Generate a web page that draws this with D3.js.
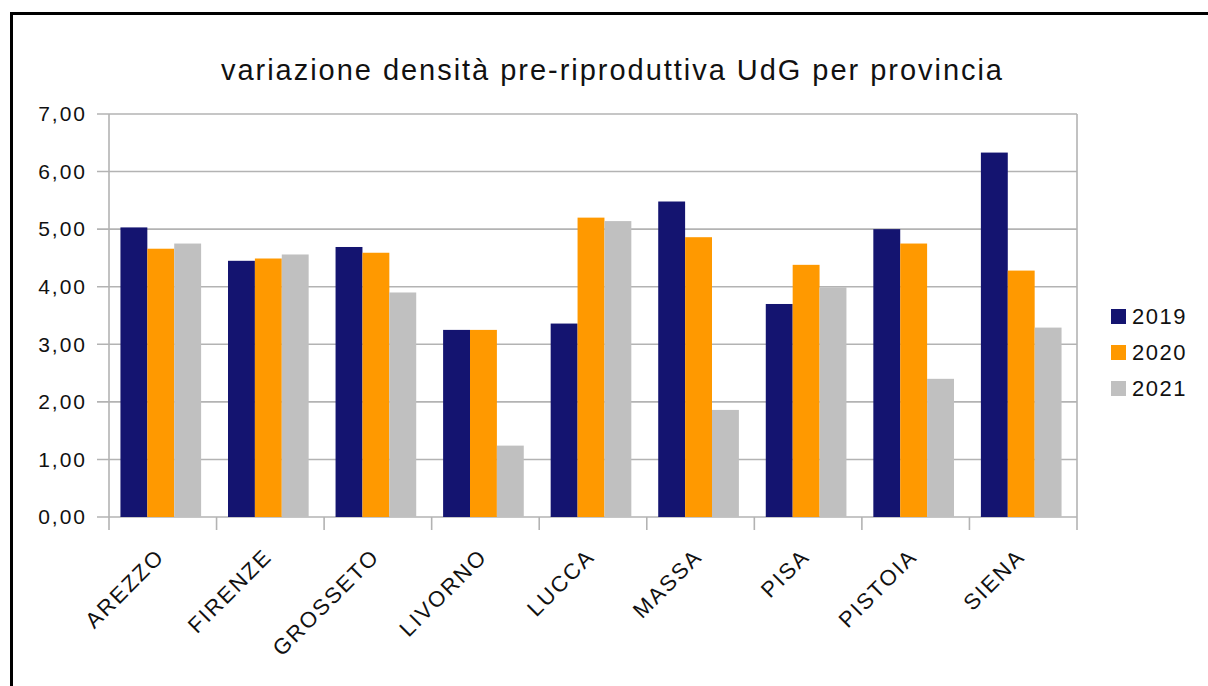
<!DOCTYPE html>
<html>
<head>
<meta charset="utf-8">
<script src="https://cdn.jsdelivr.net/npm/d3@7"></script>
<style>
  body { margin: 0; background: #fff; }
  svg { display: block; font-family: "Liberation Sans", Arial, sans-serif; }
</style>
</head>
<body>
<div class="visualisation"></div>
<script>
// DATA
var categories = ["AREZZO", "FIRENZE", "GROSSETO", "LIVORNO", "LUCCA", "MASSA", "PISA", "PISTOIA", "SIENA"];
var years = ["2019", "2020", "2021"];
var values2019 = [5.03, 4.45, 4.69, 3.25, 3.36, 5.48, 3.70, 5.00, 6.33];
var values2020 = [4.66, 4.49, 4.59, 3.25, 5.20, 4.86, 4.38, 4.75, 4.28];
var values2021 = [4.75, 4.56, 3.90, 1.24, 5.14, 1.86, 3.99, 2.40, 3.29];
var yTicks = [0, 1, 2, 3, 4, 5, 6, 7];
var colours = ["#141470", "#ff9900", "#c0c0c0"];
var title = "variazione densità pre-riproduttiva UdG per provincia";

var series = [values2019, values2020, values2021];

// CANVAS
var W = 1208, H = 686;
var plot = {left: 109, right: 1077, top: 114, bottom: 517};

var svg = d3.select(".visualisation").append("svg")
    .attr("width", W)
    .attr("height", H);

svg.append("rect").attr("width", W).attr("height", H).attr("fill", "#fff");

// outer frame (runs off the right and bottom edges)
svg.append("rect")
    .attr("x", 11.5).attr("y", 13.5)
    .attr("width", W + 20).attr("height", H + 20)
    .attr("fill", "none")
    .attr("stroke", "#000")
    .attr("stroke-width", 3);

// SCALES
var x = d3.scaleBand().domain(categories).range([plot.left, plot.right]);
var xInner = d3.scaleBand().domain(years)
    .range([x.bandwidth() / 8 - 2, x.bandwidth() * 7 / 8 - 2]);
var y = d3.scaleLinear().domain([0, 7]).range([plot.bottom, plot.top]);

var fmt = d3.formatLocale({decimal: ",", thousands: ".", grouping: [3], currency: ["", "€"]}).format(".2f");

// GRID
svg.append("g").attr("class", "grid")
  .selectAll("line").data(yTicks).join("line")
    .attr("x1", plot.left - 12).attr("x2", plot.right)
    .attr("y1", d => y(d)).attr("y2", d => y(d))
    .attr("stroke", "#b3b3b3").attr("stroke-width", 1.6);

// BARS
var groups = svg.append("g").attr("class", "bars")
  .selectAll("g").data(categories).join("g")
    .attr("transform", d => "translate(" + x(d) + ",0)");

groups.selectAll("rect")
  .data((d, i) => years.map((yr, j) => ({year: yr, value: series[j][i], k: j})))
  .join("rect")
    .attr("x", d => xInner(d.year))
    .attr("width", xInner.bandwidth())
    .attr("y", d => y(d.value))
    .attr("height", d => y(0) - y(d.value))
    .attr("fill", d => colours[d.k]);

// AXES LINES
var frame = svg.append("g").attr("stroke", "#b3b3b3").attr("stroke-width", 1.6);
frame.append("line").attr("x1", plot.left).attr("x2", plot.left)
    .attr("y1", plot.top).attr("y2", plot.bottom + 13);
frame.append("line").attr("x1", plot.right).attr("x2", plot.right)
    .attr("y1", plot.top).attr("y2", plot.bottom + 13);
frame.selectAll(".xt").data(categories.slice(1)).join("line")
    .attr("class", "xt")
    .attr("x1", d => x(d)).attr("x2", d => x(d))
    .attr("y1", plot.bottom).attr("y2", plot.bottom + 13);

// Y LABELS
svg.append("g").attr("class", "y-axis")
  .selectAll("text").data(yTicks).join("text")
    .attr("x", 87)
    .attr("y", d => y(d))
    .attr("dy", "0.35em")
    .attr("text-anchor", "end")
    .attr("font-size", 21)
    .attr("letter-spacing", 2)
    .attr("fill", "#111")
    .text(d => fmt(d));

// X LABELS
svg.append("g").attr("class", "x-axis")
  .selectAll("text").data(categories).join("text")
    .attr("transform", d => "translate(" + (x(d) + x.bandwidth() / 2 + 3) + "," + 558 + ") rotate(-45)")
    .attr("text-anchor", "end")
    .attr("font-size", 22)
    .attr("letter-spacing", 2)
    .attr("fill", "#111")
    .text(d => d);

// TITLE
svg.append("text")
    .attr("x", 221).attr("y", 80)
    .attr("font-size", 29)
    .attr("textLength", 781)
    .attr("lengthAdjust", "spacing")
    .attr("fill", "#111")
    .text(title);

// LEGEND
var legend = svg.append("g").attr("class", "legend")
  .selectAll("g").data(years).join("g")
    .attr("transform", (d, i) => "translate(1111," + (316 + i * 36) + ")");
legend.append("rect")
    .attr("x", 0).attr("y", -7)
    .attr("width", 15).attr("height", 15)
    .attr("fill", (d, i) => colours[i]);
legend.append("text")
    .attr("x", 21).attr("y", 0)
    .attr("dy", "0.36em")
    .attr("font-size", 22)
    .attr("letter-spacing", 1.5)
    .attr("fill", "#111")
    .text(d => d);
</script>
</body>
</html>
